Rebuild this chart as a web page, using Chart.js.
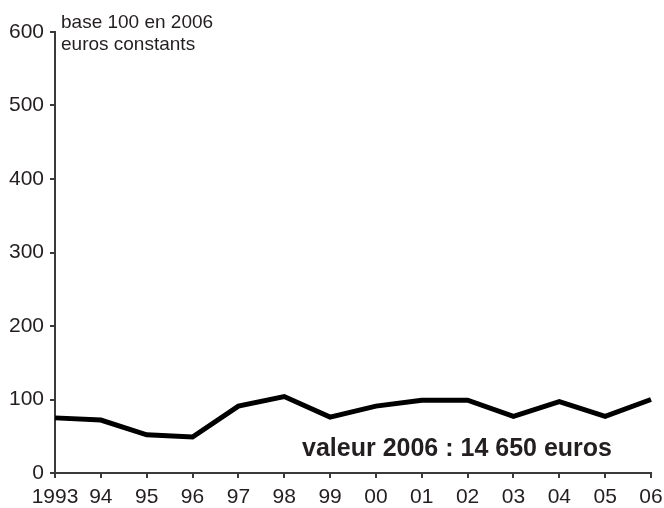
<!DOCTYPE html>
<html>
<head>
<meta charset="utf-8">
<script src="https://cdn.jsdelivr.net/npm/chart.js@4"></script>
<style>
  html, body { margin: 0; padding: 0; background: #fff; }
  #wrap { width: 664px; height: 508px; }
</style>
</head>
<body>
<div id="wrap"><canvas id="js-chart"></canvas></div>
<script>
// Data (base 100 en 2006)
const years = ['1993', '94', '95', '96', '97', '98', '99', '00', '01', '02', '03', '04', '05', '06'];
const values = [75, 72, 52, 49, 91, 104, 76, 91, 99, 99, 77, 97, 77, 100];
const yTicks = [0, 100, 200, 300, 400, 500, 600];

const textColor = '#231f20';
const axisColor = '#3a3a3a';
const fontFamily = '"Liberation Sans", Arial, sans-serif';

// Titles and annotation drawn on top of the chart
const notesPlugin = {
    id: 'notes',
    afterDraw(chart) {
        const ctx = chart.ctx;
        const area = chart.chartArea;
        ctx.save();
        ctx.fillStyle = textColor;
        ctx.textBaseline = 'alphabetic';
        ctx.textAlign = 'left';
        ctx.font = '19px ' + fontFamily;
        ctx.fillText('base 100 en 2006', area.left + 6, 28);
        ctx.fillText('euros constants', area.left + 6, 50);

        ctx.font = 'bold 25px ' + fontFamily;
        ctx.textAlign = 'center';
        ctx.fillText('valeur 2006 : 14 650 euros', 457, 456);
        ctx.restore();
    }
};

const config = {
    type: 'line',
    data: {
        labels: years,
        datasets: [{
            data: values,
            borderColor: '#000',
            borderWidth: 5,
            tension: 0,
            pointRadius: 0,
            fill: false,
        }]
    },
    options: {
        responsive: false,
        animation: false,
        maintainAspectRatio: false,
        layout: {
            padding: { top: 32, right: 13, left: 0, bottom: 0 }
        },
        scales: {
            x: {
                offset: false,
                grid: {
                    drawOnChartArea: false,
                    drawTicks: true,
                    tickLength: 5,
                    color: axisColor,
                    lineWidth: 2,
                },
                border: { display: true, color: axisColor, width: 2 },
                ticks: {
                    color: textColor,
                    padding: 7,
                    maxRotation: 0,
                    autoSkip: false,
                    font: { family: fontFamily, size: 21 },
                },
                afterFit: (scale) => {
                    scale.height = 35;
                    scale.paddingLeft = 0;
                    scale.paddingRight = 0;
                }
            },
            y: {
                min: 0,
                max: 600,
                afterBuildTicks: (scale) => {
                    scale.ticks = yTicks.map(v => ({ value: v }));
                },
                grid: {
                    drawOnChartArea: false,
                    drawTicks: true,
                    tickLength: 5,
                    color: axisColor,
                    lineWidth: 2,
                },
                border: { display: true, color: axisColor, width: 2 },
                ticks: {
                    color: textColor,
                    padding: 6,
                    font: { family: fontFamily, size: 21 },
                },
                afterFit: (scale) => {
                    scale.width = 55;
                    scale.paddingTop = 0;
                    scale.paddingBottom = 0;
                }
            }
        },
        plugins: {
            legend: { display: false },
            tooltip: { enabled: false },
        }
    },
    plugins: [notesPlugin]
};

const canvas = document.querySelector('#js-chart');
canvas.width = 664;
canvas.height = 508;
new Chart(canvas, config);
</script>
</body>
</html>
